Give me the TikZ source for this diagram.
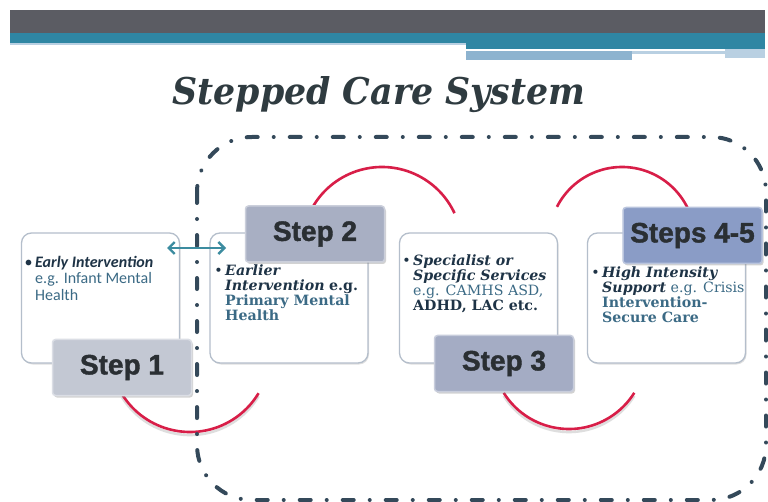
\documentclass[tikz,border=0pt]{standalone}
\usepackage{fontspec}
\setmainfont{DejaVu Serif}
\newfontfamily\titlefont{DejaVu Serif}
\newfontfamily\labelfont[BoldFeatures={FakeBold=1.5}]{Liberation Sans}
\newfontfamily\calfont{Carlito}
\usetikzlibrary{shadows,arrows.meta}
\definecolor{bardark}{HTML}{5B5C63}
\definecolor{barteal}{HTML}{2F86A3}
\definecolor{barlight}{HTML}{8DB3CF}
\definecolor{barpale}{HTML}{B9D0E2}
\definecolor{titlecol}{HTML}{2F3B40}
\definecolor{framecol}{HTML}{34495A}
\definecolor{arccol}{HTML}{D81E48}
\definecolor{boxline}{HTML}{B4BECB}
\definecolor{navytext}{HTML}{1E3346}
\definecolor{tealtext}{HTML}{3B6A85}
\definecolor{arrowcol}{HTML}{3C8CA0}
\definecolor{lab1}{HTML}{C3C8D3}
\definecolor{lab2}{HTML}{A8AFC3}
\definecolor{lab3}{HTML}{A4ACC4}
\definecolor{lab4}{HTML}{8A9CC6}
\definecolor{labtext}{HTML}{2A2F33}
\begin{document}
\begin{tikzpicture}[x=1pt,y=-1pt,
  infobox/.style={draw=boxline, line width=1.3pt, fill=white, rounded corners=10pt,
    minimum width=158pt, minimum height=130pt, inner sep=0pt,
    drop shadow={shadow xshift=1pt, shadow yshift=-1.5pt, opacity=0.25}},
  steplabel/.style={line width=1.5pt, rounded corners=3pt, minimum width=139pt,
    minimum height=56pt, inner sep=0pt, text=labtext,
    font=\labelfont\bfseries\fontsize{28}{30}\selectfont,
    drop shadow={shadow xshift=1.5pt, shadow yshift=-2pt, opacity=0.35}},
  boxtext/.style={anchor=north west, inner sep=0pt, align=left,
    font=\fontsize{14.2}{15}\selectfont},
  redarc/.style={draw=arccol, line width=2.6pt},
  arcshadow/.style={draw=black!25, line width=2.6pt, opacity=0.5},
  frame/.style={draw=framecol, line width=4pt, line cap=round, rounded corners=55pt,
    dash pattern=on 11pt off 16pt on 0.01pt off 16pt},
  teal arrow/.style={draw=arrowcol, line width=2.4pt,
    {Straight Barb[length=6pt,width=12pt]}-{Straight Barb[length=6pt,width=12pt]}}
]
\useasboundingbox (0,0) rectangle (768,502);
\fill[white] (0,0) rectangle (768,502);
% header bar
\fill[bardark] (10,10) rectangle (765,33);
\fill[barteal] (10,33) rectangle (466,43);
\fill[barpale] (10,43) rectangle (466,45);
\fill[barteal] (466,33) rectangle (765,49);
\fill[barlight] (466,51) rectangle (632,60);
\fill[barpale] (632,51) rectangle (725,54);
\fill[barpale] (725,49) rectangle (765,58);
% title
\node[anchor=base, inner sep=0pt, text=titlecol] (title) at (379,105)
  {\resizebox{413pt}{28pt}{\titlefont\bfseries\itshape Stepped Care System}};
% boxes
\node[infobox] (b1) at (100.5,298) {};
\node[infobox] (b2) at (289,298) {};
\node[infobox] (b3) at (478.5,298) {};
\node[infobox] (b4) at (666.5,298) {};
% arcs (shadows then colour)
\draw[arcshadow] (190,355) ++(148:80) arc[start angle=148, end angle=31, radius=80];
\draw[redarc] (190,352) ++(148:80) arc[start angle=148, end angle=31, radius=80];
\draw[redarc] (382,247) ++(204:80) arc[start angle=204, end angle=335, radius=80];
\draw[arcshadow] (569,355) ++(148:77) arc[start angle=148, end angle=32, radius=77];
\draw[redarc] (569,352) ++(148:77) arc[start angle=148, end angle=32, radius=77];
\draw[redarc] (622,240) ++(207:73) arc[start angle=207, end angle=335, radius=73];
% box texts
\node[boxtext, font=\calfont\fontsize{16}{16.5}\selectfont] (t1) at (35,256) {%
  \color{navytext}\llap{\textbullet\,}\textbf{\textit{Early Intervention}}\\
  \color{tealtext}e.g. Infant Mental\\
  \color{tealtext}Health};
\node[boxtext] (t2) at (225,265) {%
  \color{navytext}\llap{\textbullet\,}\textbf{\textit{Earlier}}\\
  \color{navytext}\textbf{\textit{Intervention}} \textbf{e.g.}\\
  \color{tealtext}\textbf{Primary Mental}\\
  \color{tealtext}\textbf{Health}};
\node[boxtext] (t3) at (413,255) {%
  \color{navytext}\llap{\textbullet\,}\textbf{\textit{Specialist or}}\\
  \color{navytext}\textbf{\textit{Specific Services}}\\
  \color{tealtext}e.g. CAMHS ASD,\\
  \color{navytext}\textbf{ADHD, LAC etc.}};
\node[boxtext] (t4) at (602,267) {%
  \color{navytext}\llap{\textbullet\,}\textbf{\textit{High Intensity}}\\
  \color{navytext}\textbf{\textit{Support}} \color{tealtext}e.g. Crisis\\
  \color{tealtext}\textbf{Intervention-}\\
  \color{tealtext}\textbf{Secure Care}};
% step labels
\node[steplabel, fill=lab1, draw=lab1!60!white] (s1) at (122,367.5) {Step 1};
\node[steplabel, fill=lab2, draw=lab2!60!white] (s2) at (315,234) {Step 2};
\node[steplabel, fill=lab3, draw=lab3!60!white] (s3) at (504,363.5) {Step 3};
\node[steplabel, fill=lab4, draw=lab4!60!white] (s4) at (692.5,235.5) {Steps 4-5};
% dash-dot frame
\draw[frame] (197,137) rectangle (766,500);
% double arrow between step 1 and step 2 boxes
\coordinate (a1) at (167,248);
\coordinate (a2) at (226,248);
\draw[teal arrow] (a1) -- (a2);
\end{tikzpicture}
\end{document}
